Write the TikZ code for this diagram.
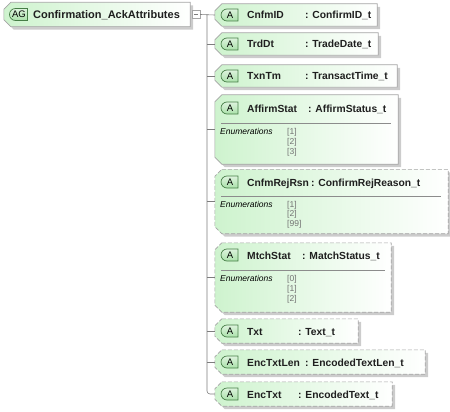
\documentclass[tikz,border=0pt]{standalone}
\usepackage{fontspec}
\setmainfont{Liberation Sans}
\usetikzlibrary{positioning,shapes.misc,shadows}
\definecolor{boxgreen}{RGB}{206,243,206}
\definecolor{edgegray}{RGB}{165,165,165}
\definecolor{linegray}{RGB}{125,125,125}
\definecolor{badgefill}{RGB}{170,225,170}
\definecolor{badgeedge}{RGB}{70,125,70}
% chamfered outline round a named area node
\newcommand{\attrframe}[2]{\path[#1] ([xshift=7pt]#2.north west) -- (#2.north east) -- (#2.south east)
  -- ([xshift=7pt]#2.south west) -- ([yshift=7pt]#2.south west) -- ([yshift=-7pt]#2.north west) -- cycle;}

\begin{document}
\begin{tikzpicture}[x=1pt, y=-1pt,
  area/.style={rectangle, inner sep=0pt},
  reqframe/.style={draw=edgegray, line width=0.6pt, left color=boxgreen, right color=white,
    drop shadow={shadow xshift=3pt, shadow yshift=-3pt, fill=black!20, opacity=1}},
  optframe/.style={reqframe, dash pattern=on 4pt off 2pt},
  badge/.style={rounded rectangle, rounded rectangle right arc=none, draw=badgeedge, line width=0.7pt,
    top color=badgefill!40!white, bottom color=badgefill, minimum height=12pt,
    minimum width=17pt, inner sep=0pt, font=\fontsize{9.5}{9.5}\selectfont},
  attrlbl/.style={anchor=base west, inner sep=0pt, text=black!88, font=\fontsize{10.3}{12}\selectfont\bfseries},
  enumlbl/.style={anchor=base west, inner sep=0pt, font=\fontsize{8.5}{10}\selectfont\itshape},
  vallbl/.style={anchor=base west, inner sep=0pt, font=\fontsize{8.5}{10}\selectfont, text=black!55},
  rule/.style={draw=black!45, line width=0.5pt},
  link/.style={draw=linegray, line width=0.6pt}
]
\useasboundingbox (0,0) rectangle (450,412);

% root attribute group
\node[area, minimum width=186pt, minimum height=24pt] (root) at (97,14.5) {};
\attrframe{reqframe}{root}
\node[badge, minimum width=18pt] (rootbadge) at (19,14.5) {AG};
\node[attrlbl, font=\fontsize{11}{12}\selectfont\bfseries] (roottitle) at (33,18.5) {Confirmation\_AckAttributes};
\node[draw=edgegray, fill=white, minimum size=8pt, inner sep=0pt] (tog) at (196,14.5) {};
\draw[linegray] ([xshift=2pt]tog.west) -- ([xshift=-2pt]tog.east);

% attributes
\node[area, minimum width=162pt, minimum height=22pt] (cnfm) at (296,15) {};
\node[area, minimum width=163pt, minimum height=22pt] (trd) at (296.5,44) {};
\node[area, minimum width=182pt, minimum height=22pt] (txn) at (306,76) {};
\node[area, minimum width=183pt, minimum height=69pt] (affirm) at (306.5,129.5) {};
\node[area, minimum width=233pt, minimum height=64pt] (rej) at (331.5,201.5) {};
\node[area, minimum width=176pt, minimum height=69pt] (mtch) at (303,277.5) {};
\node[area, minimum width=143pt, minimum height=24pt] (txt) at (286.5,331) {};
\node[area, minimum width=210pt, minimum height=24pt] (enclen) at (320,362) {};
\node[area, minimum width=177pt, minimum height=24pt] (enc) at (303.5,394) {};
\attrframe{reqframe}{cnfm}
\attrframe{reqframe}{trd}
\attrframe{reqframe}{txn}
\attrframe{reqframe}{affirm}
\attrframe{optframe}{rej}
\attrframe{optframe}{mtch}
\attrframe{optframe}{txt}
\attrframe{optframe}{enclen}
\attrframe{optframe}{enc}

% badges
\node[badge] (ba) at (230,15) {A};
\node[badge] (bb) at (230,44) {A};
\node[badge] (bc) at (230,76) {A};
\node[badge] (bd) at (230,108) {A};
\node[badge] (be) at (230,182) {A};
\node[badge] (bf) at (230,255) {A};
\node[badge] (bg) at (230,331) {A};
\node[badge] (bh) at (230,362) {A};
\node[badge] (bi) at (230,394) {A};

% names and types
\node[attrlbl] (na) at (247,19) {CnfmID};        \node[attrlbl] (ta) at (305,19) {: ConfirmID\_t};
\node[attrlbl] (nb) at (247,48) {TrdDt};         \node[attrlbl] (tb) at (305,48) {: TradeDate\_t};
\node[attrlbl] (nc) at (247,80) {TxnTm};         \node[attrlbl] (tc) at (305,80) {: TransactTime\_t};
\node[attrlbl] (nd) at (247,112) {AffirmStat};   \node[attrlbl] (td) at (308,112) {: AffirmStatus\_t};
\node[attrlbl] (ne) at (247,186) {CnfmRejRsn};   \node[attrlbl] (te) at (311,186) {: ConfirmRejReason\_t};
\node[attrlbl] (nf) at (247,259) {MtchStat};     \node[attrlbl] (tf) at (302,259) {: MatchStatus\_t};
\node[attrlbl] (ng) at (247,335) {Txt};          \node[attrlbl] (tg) at (298,335) {: Text\_t};
\node[attrlbl] (nh) at (247,366) {EncTxtLen};    \node[attrlbl] (th) at (305,366) {: EncodedTextLen\_t};
\node[attrlbl] (ni) at (247,398) {EncTxt};       \node[attrlbl] (ti) at (298,398) {: EncodedText\_t};

% enumerations
\draw[rule] (221,123) -- (391,123);
\node[enumlbl] (ed) at (220,134) {Enumerations};
\node[vallbl] (vd1) at (287,134) {[1]};
\node[vallbl] (vd2) at (287,144) {[2]};
\node[vallbl] (vd3) at (287,154) {[3]};

\draw[rule] (221,196) -- (441,196);
\node[enumlbl] (ee) at (220,207) {Enumerations};
\node[vallbl] (ve1) at (287,207) {[1]};
\node[vallbl] (ve2) at (287,216) {[2]};
\node[vallbl] (ve3) at (287,226) {[99]};

\draw[rule] (221,270) -- (385,270);
\node[enumlbl] (ef) at (220,281) {Enumerations};
\node[vallbl] (vf1) at (287,281) {[0]};
\node[vallbl] (vf2) at (287,291) {[1]};
\node[vallbl] (vf3) at (287,301) {[2]};

% tree lines
\coordinate (trunk) at (207,14.5);
\draw[link] (tog.east) -- (cnfm.west);
\draw[link, rounded corners=3pt] (trunk) |- (enc.west);
\draw[link] (trunk |- trd.west) -- (trd.west);
\draw[link] (trunk |- txn.west) -- (txn.west);
\draw[link] (trunk |- affirm.west) -- (affirm.west);
\draw[link] (trunk |- rej.west) -- (rej.west);
\draw[link] (trunk |- mtch.west) -- (mtch.west);
\draw[link] (trunk |- txt.west) -- (txt.west);
\draw[link] (trunk |- enclen.west) -- (enclen.west);
\end{tikzpicture}
\end{document}
